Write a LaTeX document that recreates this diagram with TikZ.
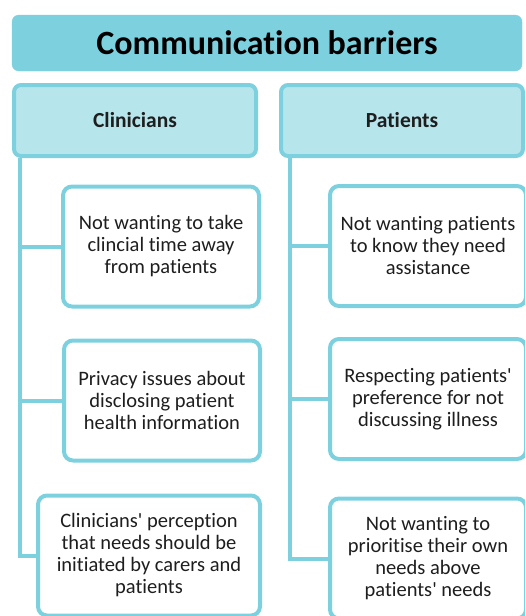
\documentclass[tikz,border=0pt]{standalone}
\usepackage{fontspec}
\setmainfont{Carlito}[Ligatures={NoCommon,NoContextual}]
\usetikzlibrary{positioning}
\definecolor{barrierteal}{HTML}{7DD1DF}
\definecolor{barrierpale}{HTML}{B7E5EC}
\definecolor{barriertext}{HTML}{1E1E1E}
\newcommand{\apos}{\textquotesingle}
\tikzset{
  titlebox/.style={rectangle,rounded corners=7pt,fill=barrierteal,draw=barrierteal,minimum width=510pt,minimum height=56pt,inner sep=0pt,font=\fontsize{34}{38}\selectfont\bfseries},
  groupbox/.style={rectangle,rounded corners=7pt,fill=barrierpale,draw=barrierteal,line width=4pt,minimum width=242pt,minimum height=71pt,inner sep=0pt,font=\fontsize{21.5}{24}\selectfont\bfseries,text=barriertext},
  itembox/.style={rectangle,rounded corners=9pt,fill=white,draw=barrierteal,line width=4pt,minimum width=196pt,minimum height=120pt,inner sep=0pt,align=center,font=\fontsize{20.5}{22}\selectfont,text=barriertext},
  link/.style={draw=barrierteal,line width=4pt}
}
\begin{document}
\begin{tikzpicture}[x=1pt,y=-1pt]
\useasboundingbox (0,0) rectangle (525,616);
\clip (0,0) rectangle (525,616);

% heading and the two groups
\node[titlebox] (title) at (267,43) {Communication barriers};
\node[groupbox] (clin) at (135,120.5) {Clinicians};
\node[groupbox] (pat) at (402,120.5) {Patients};

% clinicians
\node[itembox] (cl1) at (161,246.5) {Not wanting to take\\clincial time away\\from patients};
\node[itembox] (cl2) at (162,400.5) {Privacy issues about\\disclosing patient\\health information};
\node[itembox,minimum width=222pt] (cl3) at (149,555.5) {Clinicians\apos{} perception\\that needs should be\\initiated by carers and\\patients};

% patients
\node[itembox] (pa1) at (428,246) {Not wanting patients\\to know they need\\assistance};
\node[itembox] (pa2) at (428,399) {Respecting patients\apos\\preference for not\\discussing illness};
\node[itembox] (pa3) at (428,558.5) {Not wanting to\\prioritise their own\\needs above\\patients\apos{} needs};

% trunks and branches
\draw[link] ([xshift=8pt]clin.south west) |- (cl3.west);
\draw[link] ([xshift=8pt]clin.south west |- cl1.west) -- (cl1.west);
\draw[link] ([xshift=8pt]clin.south west |- cl2.west) -- (cl2.west);
\draw[link] ([xshift=11pt]pat.south west) |- (pa3.west);
\draw[link] ([xshift=11pt]pat.south west |- pa1.west) -- (pa1.west);
\draw[link] ([xshift=11pt]pat.south west |- pa2.west) -- (pa2.west);
\end{tikzpicture}
\end{document}
